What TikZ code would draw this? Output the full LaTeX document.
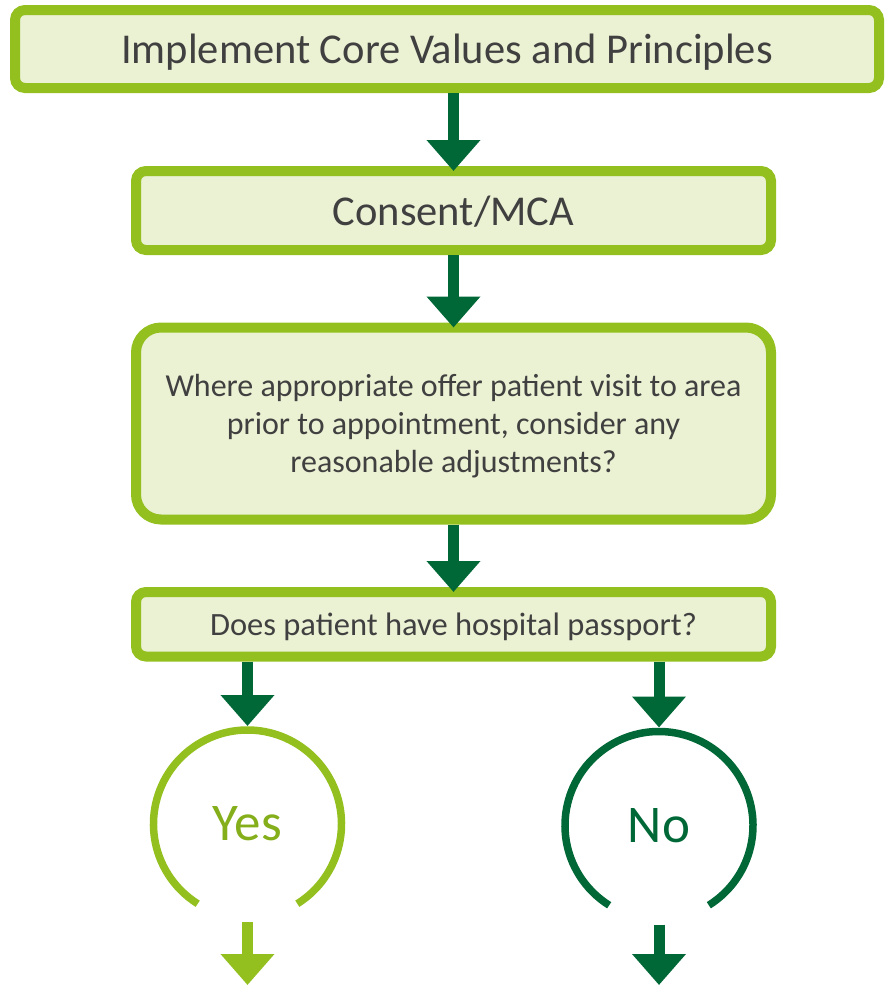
\documentclass[tikz,border=0pt]{standalone}
\usepackage{fontspec}
\setmainfont{Carlito}
\usepackage{tikz}
\usetikzlibrary{arrows.meta, positioning}
\definecolor{leaf}{RGB}{147,192,31}
\definecolor{yesleaf}{RGB}{132,174,26}
\definecolor{forest}{RGB}{0,104,55}
\definecolor{pale}{RGB}{235,241,211}
\definecolor{ink}{RGB}{64,64,64}

\begin{document}
\begin{tikzpicture}[x=1pt, y=1pt,
    box/.style={draw=leaf, fill=pale, line width=10pt, rounded corners=10pt,
        minimum width=635pt, inner sep=0pt, text depth=0pt, align=center, text=ink},
    flow/.style={draw=forest, line width=11pt, shorten >=-5pt,
        -{Triangle[width=52pt, length=31pt]}},
    ring/.style={circle, minimum size=188pt, inner sep=0pt, outer sep=0pt,
        font=\fontsize{53}{60}\selectfont}
]
    \useasboundingbox (0,0) rectangle (885,-985);
    % steps
    \node[box, minimum width=864pt, minimum height=78pt, font=\fontsize{42.5}{50}\selectfont] (impl) at (447,-49) {Implement Core Values and Principles};
    \node[box, minimum height=79pt, font=\fontsize{42.5}{50}\selectfont, below=73pt of impl, xshift=6.5pt] (consent) {Consent/MCA};
    \node[box, minimum height=192pt, rounded corners=25pt, font=\fontsize{32}{38}\selectfont, below=67.5pt of consent] (visit) {Where appropriate offer patient visit to area\\prior to appointment, consider any\\reasonable adjustments?};
    \node[box, minimum height=64.5pt, font=\fontsize{32.5}{38}\selectfont, below=62.5pt of visit] (ask) {Does patient have hospital passport?};
    % answers
    \node[ring, text=yesleaf] (yes) at (247.5,-824) {Yes};
    \node[ring, text=forest] (no) at (659,-825.5) {No};
    \draw[leaf, line width=7.5pt] (yes.-58) arc[start angle=-58, end angle=238, radius=94pt];
    \draw[forest, line width=7.5pt] (no.-58) arc[start angle=-58, end angle=238, radius=94pt];
    \coordinate (yesout) at (247.5,-985);
    \coordinate (noout) at (659,-985);
    % arrows
    \draw[flow] (consent.north |- impl.south) -- (consent.north);
    \draw[flow] (consent) -- (visit);
    \draw[flow] (visit) -- (ask);
    \draw[flow, shorten >=4pt] (yes.north |- ask.south) -- (yes.north);
    \draw[flow, shorten >=4pt] (no.north |- ask.south) -- (no.north);
    \draw[flow, draw=leaf, shorten <=4pt, shorten >=0pt] (yes.south) -- (yesout);
    \draw[flow, shorten <=5pt, shorten >=0pt] (no.south) -- (noout);
\end{tikzpicture}
\end{document}
